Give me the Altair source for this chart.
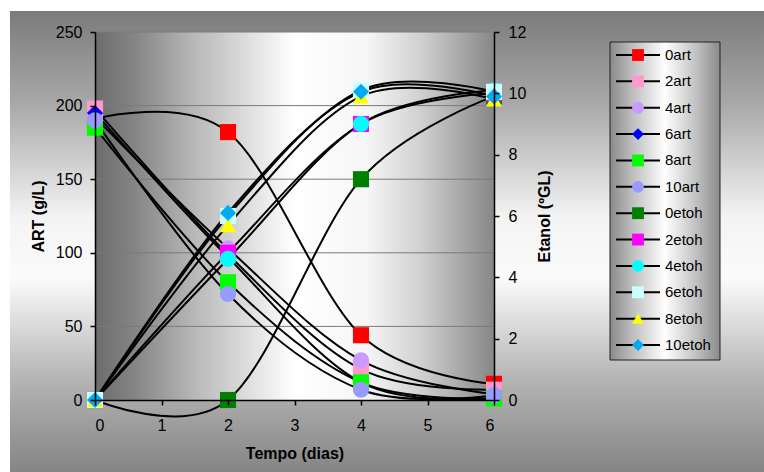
import altair as alt
import pandas as pd

# ---------------- data ----------------
time_days = [0, 2, 4, 6]

art_names = ["0art", "2art", "4art", "6art", "8art", "10art"]
art_values = [
    [191, 182, 44, 11],
    [198, 99, 21, 7],
    [192, 103, 27, 4],
    [195, 97, 12, 1],
    [185, 80, 12, 1],
    [190, 72, 7, 3],
]

etoh_names = ["0etoh", "2etoh", "4etoh", "6etoh", "8etoh", "10etoh"]
etoh_values = [
    [0, 0, 7.2, 9.9],
    [0, 4.8, 9.0, 10.0],
    [0, 4.6, 9.0, 10.1],
    [0, 6.0, 10.1, 10.05],
    [0, 5.7, 9.9, 9.8],
    [0, 6.1, 10.05, 9.9],
]

series_names = art_names + etoh_names
series_colors = ["#FF0000", "#FF99CC", "#CC99FF", "#0000FF", "#00FF00", "#9999FF",
                 "#008000", "#FF00FF", "#00FFFF", "#CCFFFF", "#FFFF00", "#00AAF5"]
series_shapes = ["square", "square", "circle", "diamond", "square", "circle",
                 "square", "square", "circle", "square", "triangle-up", "diamond"]

art_ticks = [0, 50, 100, 150, 200, 250]
etoh_ticks = [0, 2, 4, 6, 8, 10, 12]
x_ticks = [0, 1, 2, 3, 4, 5, 6]

# ---------------- tables ----------------
def long_table(names, values, key):
    rows = []
    for i, (n, vals) in enumerate(zip(names, values)):
        for t, v in zip(time_days, vals):
            rows.append({"series": n, "order": i, "t": t, key: v})
    return pd.DataFrame(rows)

art_df = long_table(art_names, art_values, "art")
etoh_df = long_table(etoh_names, etoh_values, "etoh")
legend_df = pd.DataFrame({"series": series_names, "idx": list(range(len(series_names)))})
grid_df = pd.DataFrame({"v": art_ticks[1:]})
one = pd.DataFrame({"a": [0]})

W, H = 399, 368
FONT = "Liberation Sans"

color_scale = alt.Scale(domain=series_names, range=series_colors)
shape_scale = alt.Scale(domain=series_names, range=series_shapes)

x_enc = alt.X("t:Q", scale=alt.Scale(domain=[0, 6], nice=False, zero=False),
              axis=alt.Axis(values=x_ticks, title="Tempo (dias)", grid=False,
                            tickSize=5, labelPadding=12, zindex=1,
                            titleX=W / 2, titleY=53, titleBaseline="middle"))

art_y = alt.Scale(domain=[0, 250], nice=False)
etoh_y = alt.Scale(domain=[0, 12], nice=False)


def grad(stops, vertical=False):
    return alt.LinearGradient(
        gradient="linear",
        stops=[alt.GradientStop(offset=o, color=c) for o, c in stops],
        x1=0, y1=0, x2=0 if vertical else 1, y2=1 if vertical else 0)


outer_bg = alt.Chart(one).mark_rect(
    fill=grad([(0, "#7b7b7b"), (0.2, "#a8a8a8"), (0.45, "#f4f4f4"), (0.58, "#fbfbfb"),
               (0.8, "#b4b4b4"), (1, "#858585")], vertical=True)
).encode(x=alt.value(-85), x2=alt.value(669), y=alt.value(-21), y2=alt.value(440))

plot_bg = alt.Chart(one).mark_rect(
    fill=grad([(0, "#6c6c6c"), (0.1, "#858585"), (0.25, "#b8b8b8"), (0.5, "#ffffff"),
               (0.68, "#f6f6f6"), (0.82, "#cfcfcf"), (1, "#878787")])
).encode(x=alt.value(0), x2=alt.value(W), y=alt.value(0), y2=alt.value(H))

legend_bg = alt.Chart(one).mark_rect(
    fill=grad([(0, "#8a8a8a"), (0.2, "#bdbdbd"), (0.5, "#ffffff"), (0.8, "#bdbdbd"), (1, "#8a8a8a")]),
    stroke="#222222", strokeWidth=1
).encode(x=alt.value(515), x2=alt.value(625), y=alt.value(10), y2=alt.value(328))

grid = alt.Chart(grid_df).mark_rule(color="#7a7a7a", strokeWidth=1).encode(
    y=alt.Y("v:Q", scale=art_y, axis=None))

art_lines = alt.Chart(art_df).mark_line(
    interpolate="cardinal", tension=0, color="black", strokeWidth=2
).encode(
    x=x_enc,
    y=alt.Y("art:Q", scale=art_y,
            axis=alt.Axis(orient="left", values=art_ticks, title="ART (g/L)", grid=False,
                          tickSize=5, labelPadding=8, zindex=1,
                          titleAngle=270, titleX=-57, titleY=H / 2,
                          titleAlign="center", titleBaseline="middle")),
    detail="series:N", order="t:Q")

etoh_lines = alt.Chart(etoh_df).mark_line(
    interpolate="cardinal", tension=0, color="black", strokeWidth=2
).encode(
    x=x_enc,
    y=alt.Y("etoh:Q", scale=etoh_y,
            axis=alt.Axis(orient="right", values=etoh_ticks, title="Etanol (ºGL)", grid=False,
                          tickSize=5, labelPadding=9, zindex=1,
                          titleAngle=270, titleX=50, titleY=H / 2,
                          titleAlign="center", titleBaseline="middle")),
    detail="series:N", order="t:Q")

art_points = alt.Chart(art_df).mark_point(filled=True, opacity=1, size=260).encode(
    x=x_enc,
    y=alt.Y("art:Q", scale=art_y, axis=None),
    color=alt.Color("series:N", scale=color_scale, legend=None),
    shape=alt.Shape("series:N", scale=shape_scale, legend=None),
    order="order:Q")

etoh_points = alt.Chart(etoh_df).mark_point(filled=True, opacity=1, size=260).encode(
    x=x_enc,
    y=alt.Y("etoh:Q", scale=etoh_y, axis=None),
    color=alt.Color("series:N", scale=color_scale, legend=None),
    shape=alt.Shape("series:N", scale=shape_scale, legend=None),
    order="order:Q")

leg_y = alt.Y("series:N", sort=series_names,
              scale=alt.Scale(type="point", domain=series_names, range=[23, 313], padding=0),
              axis=None)

legend_lines = alt.Chart(legend_df).mark_rule(color="black", strokeWidth=2).encode(
    x=alt.value(521), x2=alt.value(565), y=leg_y)

legend_points = alt.Chart(legend_df).mark_point(filled=True, opacity=1, size=140).encode(
    x=alt.value(543), y=leg_y,
    color=alt.Color("series:N", scale=color_scale, legend=None),
    shape=alt.Shape("series:N", scale=shape_scale, legend=None))

legend_text = alt.Chart(legend_df).mark_text(
    align="left", baseline="middle", font=FONT, fontSize=15, color="black", dx=0
).encode(x=alt.value(570), y=leg_y, text="series:N")

chart = alt.layer(
    outer_bg, plot_bg, legend_bg, grid,
    art_lines, etoh_lines, art_points, etoh_points,
    legend_lines, legend_points, legend_text
).resolve_scale(y="independent").properties(
    width=W, height=H,
    autosize=alt.AutoSizeParams(type="none"),
    padding={"left": 95, "top": 32, "right": 270, "bottom": 72},
    background="white"
).configure_view(stroke=None).configure_axis(
    labelFont=FONT, labelFontSize=16, labelColor="black",
    titleFont=FONT, titleFontSize=16, titleFontWeight="bold", titleColor="black",
    domainColor="black", domainWidth=1.5, tickColor="black", tickWidth=1.5
)

chart.save("out.html", embed_options={"renderer": "svg", "actions": False})
